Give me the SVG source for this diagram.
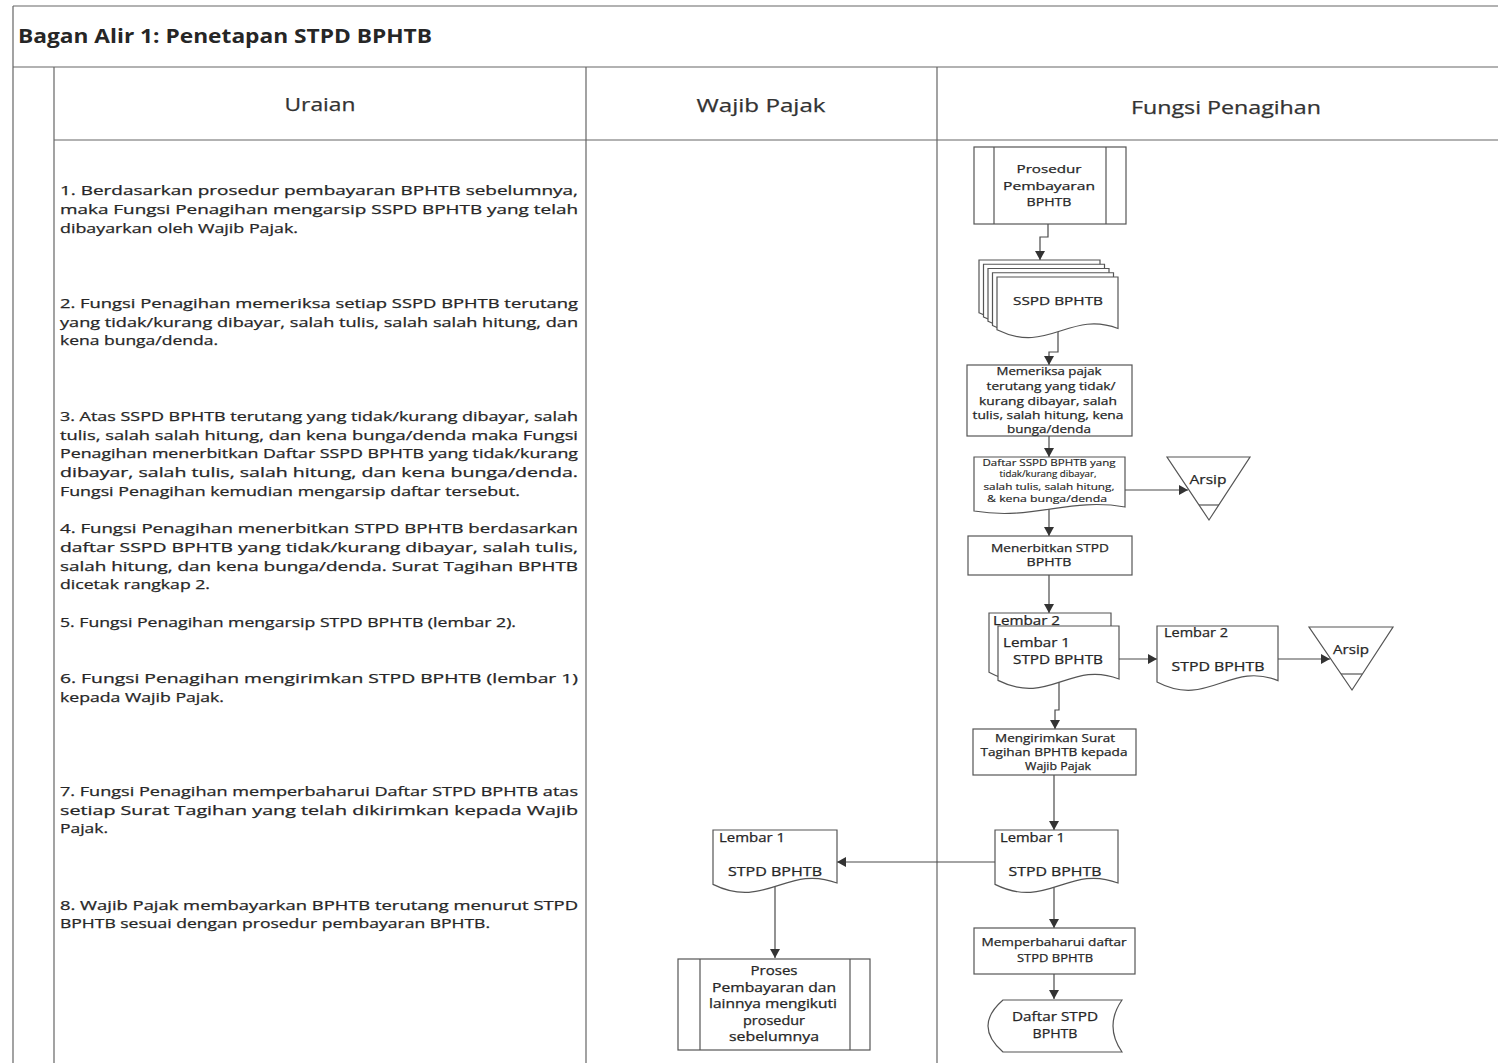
<svg xmlns="http://www.w3.org/2000/svg" width="1498" height="1063" viewBox="0 0 1498 1063">
<style>
.frame{stroke:#666;stroke-width:1.2;fill:none}
.t{font-family:"Open Sans","Liberation Sans",sans-serif;fill:#262626;stroke:#262626;stroke-width:0.25}
.title{font-size:20px;font-weight:bold;stroke-width:0}
.hd{font-size:19px;text-anchor:middle;fill:#333;stroke:#333}
.p{font-size:13px}
.n{font-size:11.5px;text-anchor:middle}
.ns{font-size:9px;text-anchor:middle;stroke-width:0.15}
.l{font-size:12px}
.shape{fill:#fff;stroke:#555;stroke-width:1.2}
.thin{fill:none;stroke:#555;stroke-width:1.2}
.conn{fill:none;stroke:#4a4a4a;stroke-width:1.2;marker-end:url(#arr)}
</style>
<defs>
<marker id="arr" markerUnits="userSpaceOnUse" markerWidth="9" markerHeight="10" viewBox="0 0 9 10" refX="9" refY="5" orient="auto">
<path d="M0,0 L9,5 L0,10 Z" fill="#333"/>
</marker>
</defs>
<rect width="1498" height="1063" fill="#fff"/>

<g id="frame">
<path class="frame" d="M13,6 H1498 M13,6 V1063 M13,67 H1498 M54,67 V1063 M54,140 H1498 M586,67 V1063 M937,67 V1063"/>
<text class="t title" x="18" y="43" textLength="414" lengthAdjust="spacingAndGlyphs">Bagan Alir 1: Penetapan STPD BPHTB</text>
<text class="t hd" x="320" y="111" textLength="71" lengthAdjust="spacingAndGlyphs">Uraian</text>
<text class="t hd" x="761" y="112" textLength="129" lengthAdjust="spacingAndGlyphs">Wajib Pajak</text>
<text class="t hd" x="1226" y="114" textLength="190" lengthAdjust="spacingAndGlyphs">Fungsi Penagihan</text>
</g>

<g id="uraian" class="t p">
<text x="60" y="195" textLength="518" lengthAdjust="spacingAndGlyphs">1. Berdasarkan prosedur pembayaran BPHTB sebelumnya,</text>
<text x="60" y="214" textLength="518" lengthAdjust="spacingAndGlyphs">maka Fungsi Penagihan mengarsip SSPD BPHTB yang telah</text>
<text x="60" y="233" textLength="238" lengthAdjust="spacingAndGlyphs">dibayarkan oleh Wajib Pajak.</text>

<text x="60" y="308" textLength="518" lengthAdjust="spacingAndGlyphs">2. Fungsi Penagihan memeriksa setiap SSPD BPHTB terutang</text>
<text x="60" y="327" textLength="518" lengthAdjust="spacingAndGlyphs">yang tidak/kurang dibayar, salah tulis, salah salah hitung, dan</text>
<text x="60" y="345" textLength="158" lengthAdjust="spacingAndGlyphs">kena bunga/denda.</text>

<text x="60" y="421" textLength="518" lengthAdjust="spacingAndGlyphs">3. Atas SSPD BPHTB terutang yang tidak/kurang dibayar, salah</text>
<text x="60" y="440" textLength="518" lengthAdjust="spacingAndGlyphs">tulis, salah salah hitung, dan kena bunga/denda maka Fungsi</text>
<text x="60" y="458" textLength="518" lengthAdjust="spacingAndGlyphs">Penagihan menerbitkan Daftar SSPD BPHTB yang tidak/kurang</text>
<text x="60" y="477" textLength="518" lengthAdjust="spacingAndGlyphs">dibayar, salah tulis, salah hitung, dan kena bunga/denda.</text>
<text x="60" y="496" textLength="460" lengthAdjust="spacingAndGlyphs">Fungsi Penagihan kemudian mengarsip  daftar tersebut.</text>

<text x="60" y="533" textLength="518" lengthAdjust="spacingAndGlyphs">4. Fungsi Penagihan menerbitkan STPD BPHTB berdasarkan</text>
<text x="60" y="552" textLength="518" lengthAdjust="spacingAndGlyphs">daftar SSPD BPHTB yang tidak/kurang dibayar, salah tulis,</text>
<text x="60" y="571" textLength="518" lengthAdjust="spacingAndGlyphs">salah hitung, dan kena bunga/denda. Surat Tagihan BPHTB</text>
<text x="60" y="589" textLength="150" lengthAdjust="spacingAndGlyphs">dicetak rangkap 2.</text>

<text x="60" y="627" textLength="456" lengthAdjust="spacingAndGlyphs">5. Fungsi Penagihan mengarsip STPD BPHTB (lembar 2).</text>

<text x="60" y="683" textLength="518" lengthAdjust="spacingAndGlyphs">6. Fungsi Penagihan mengirimkan STPD BPHTB (lembar 1)</text>
<text x="60" y="702" textLength="164" lengthAdjust="spacingAndGlyphs">kepada Wajib Pajak.</text>

<text x="60" y="796" textLength="518" lengthAdjust="spacingAndGlyphs">7. Fungsi Penagihan memperbaharui Daftar STPD BPHTB atas</text>
<text x="60" y="815" textLength="518" lengthAdjust="spacingAndGlyphs">setiap Surat Tagihan yang telah dikirimkan kepada Wajib</text>
<text x="60" y="833" textLength="48" lengthAdjust="spacingAndGlyphs">Pajak.</text>

<text x="60" y="910" textLength="518" lengthAdjust="spacingAndGlyphs">8. Wajib Pajak membayarkan BPHTB terutang menurut STPD</text>
<text x="60" y="928" textLength="430" lengthAdjust="spacingAndGlyphs">BPHTB sesuai dengan prosedur pembayaran BPHTB.</text>
</g>

<g id="connectors">
<path class="conn" d="M1048,224 V237 H1040 V260"/>
<path class="conn" d="M1058,332 V352 H1049 V365"/>
<path class="conn" d="M1049,436 V457"/>
<path class="conn" d="M1125,490 H1188"/>
<path class="conn" d="M1049,509 V536"/>
<path class="conn" d="M1049,575 V613"/>
<path class="conn" d="M1119,659 H1157"/>
<path class="conn" d="M1278,659 H1330"/>
<path class="conn" d="M1059,682 V710 H1055 V729"/>
<path class="conn" d="M1054,775 V830"/>
<path class="conn" d="M995,862 H837"/>
<path class="conn" d="M775,886 V958"/>
<path class="conn" d="M1054,886 V928"/>
<path class="conn" d="M1054,974 V999"/>
</g>

<g id="prosedur">
<rect class="shape" x="974" y="147" width="152" height="77"/>
<path class="thin" d="M994,147 V224 M1106,147 V224"/>
<text class="t n" x="1049" y="173" textLength="65" lengthAdjust="spacingAndGlyphs">Prosedur</text>
<text class="t n" x="1049" y="190" textLength="92" lengthAdjust="spacingAndGlyphs">Pembayaran</text>
<text class="t n" x="1049" y="206" textLength="45" lengthAdjust="spacingAndGlyphs">BPHTB</text>
</g>

<g id="sspd">
<path class="shape" transform="translate(979,260)" d="M0,0 H121 V51.5 C72.6,33 50.8,77.9 0,52.8 Z"/>
<path class="shape" transform="translate(983.5,264.25)" d="M0,0 H121 V51.5 C72.6,33 50.8,77.9 0,52.8 Z"/>
<path class="shape" transform="translate(988,268.5)" d="M0,0 H121 V51.5 C72.6,33 50.8,77.9 0,52.8 Z"/>
<path class="shape" transform="translate(992.5,272.75)" d="M0,0 H121 V51.5 C72.6,33 50.8,77.9 0,52.8 Z"/>
<path class="shape" transform="translate(997,277)" d="M0,0 H121 V51.5 C72.6,33 50.8,77.9 0,52.8 Z"/>
<text class="t n" x="1058" y="305" textLength="90" lengthAdjust="spacingAndGlyphs">SSPD BPHTB</text>
</g>

<g id="memeriksa">
<rect class="shape" x="967" y="365" width="165" height="71"/>
<text class="t n" x="1049" y="375" textLength="105" lengthAdjust="spacingAndGlyphs">Memeriksa pajak</text>
<text class="t n" x="1051" y="390" textLength="129" lengthAdjust="spacingAndGlyphs">terutang yang tidak/</text>
<text class="t n" x="1048" y="404.5" textLength="138" lengthAdjust="spacingAndGlyphs">kurang dibayar, salah</text>
<text class="t n" x="1048" y="419" textLength="151" lengthAdjust="spacingAndGlyphs">tulis, salah hitung, kena</text>
<text class="t n" x="1049" y="433" textLength="84" lengthAdjust="spacingAndGlyphs">bunga/denda</text>
</g>

<g id="daftar-sspd">
<path class="shape" transform="translate(974,457)" d="M0,0 H151 V50 C95,40 60,64 0,54 Z"/>
<text class="t ns" x="1049" y="465.5" textLength="133" lengthAdjust="spacingAndGlyphs">Daftar SSPD BPHTB yang</text>
<text class="t ns" x="1048" y="477" textLength="97" lengthAdjust="spacingAndGlyphs">tidak/kurang dibayar,</text>
<text class="t ns" x="1049" y="490" textLength="131" lengthAdjust="spacingAndGlyphs">salah tulis, salah hitung,</text>
<text class="t ns" x="1047" y="502" textLength="120" lengthAdjust="spacingAndGlyphs">&amp; kena bunga/denda</text>
</g>

<g id="arsip1">
<polygon class="shape" points="1167,457 1250,457 1209,520"/>
<path class="thin" d="M1199,505 H1219"/>
<text class="t n" x="1208" y="484" style="font-size:13px" textLength="37" lengthAdjust="spacingAndGlyphs">Arsip</text>
</g>

<g id="menerbitkan">
<rect class="shape" x="968" y="536" width="164" height="39"/>
<text class="t n" x="1050" y="552" textLength="118" lengthAdjust="spacingAndGlyphs">Menerbitkan STPD</text>
<text class="t n" x="1049" y="566" textLength="45" lengthAdjust="spacingAndGlyphs">BPHTB</text>
</g>

<g id="stpd-rangkap">
<path class="shape" transform="translate(989,613)" d="M0,0 H122 V57.7 C73.2,37 51.2,87.3 0,59.2 Z"/>
<text class="t l" x="993" y="625" textLength="67" lengthAdjust="spacingAndGlyphs">Lembar 2</text>
<path class="shape" transform="translate(998,626)" d="M0,0 H121 V53 C72.6,34 50.8,80.2 0,54.4 Z"/>
<text class="t l" x="1003" y="647" textLength="67" lengthAdjust="spacingAndGlyphs">Lembar 1</text>
<text class="t n" x="1058" y="664" style="font-size:12px" textLength="90" lengthAdjust="spacingAndGlyphs">STPD BPHTB</text>
</g>

<g id="stpd-lembar2">
<path class="shape" transform="translate(1157,626)" d="M0,0 H121 V54.6 C72.6,35 50.8,82.6 0,56 Z"/>
<text class="t l" x="1164" y="637" textLength="64" lengthAdjust="spacingAndGlyphs">Lembar 2</text>
<text class="t n" x="1218" y="671" style="font-size:12px" textLength="93" lengthAdjust="spacingAndGlyphs">STPD  BPHTB</text>
</g>

<g id="arsip2">
<polygon class="shape" points="1309,627 1393,627 1352,690"/>
<path class="thin" d="M1341,674 H1362"/>
<text class="t n" x="1351" y="654" style="font-size:13px" textLength="36" lengthAdjust="spacingAndGlyphs">Arsip</text>
</g>

<g id="mengirimkan">
<rect class="shape" x="973" y="729" width="163" height="46"/>
<text class="t n" x="1055" y="742" textLength="120" lengthAdjust="spacingAndGlyphs">Mengirimkan Surat</text>
<text class="t n" x="1054" y="756" textLength="147" lengthAdjust="spacingAndGlyphs">Tagihan BPHTB kepada</text>
<text class="t n" x="1058" y="770" textLength="66" lengthAdjust="spacingAndGlyphs">Wajib Pajak</text>
</g>

<g id="stpd-lembar1-fp">
<path class="shape" transform="translate(995,830)" d="M0,0 H123 V53 C73.8,34 51.7,80.2 0,54.4 Z"/>
<text class="t l" x="1000" y="842" textLength="65" lengthAdjust="spacingAndGlyphs">Lembar 1</text>
<text class="t n" x="1055" y="876" style="font-size:12px" textLength="93" lengthAdjust="spacingAndGlyphs">STPD  BPHTB</text>
</g>

<g id="stpd-lembar1-wp">
<path class="shape" transform="translate(713,830)" d="M0,0 H124 V53 C74.4,34 52.1,80.2 0,54.4 Z"/>
<text class="t l" x="719" y="842" textLength="66" lengthAdjust="spacingAndGlyphs">Lembar 1</text>
<text class="t n" x="775" y="876" style="font-size:12px" textLength="94" lengthAdjust="spacingAndGlyphs">STPD  BPHTB</text>
</g>

<g id="memperbaharui">
<rect class="shape" x="974" y="928" width="161" height="46"/>
<text class="t n" x="1054" y="946" textLength="145" lengthAdjust="spacingAndGlyphs">Memperbaharui daftar</text>
<text class="t n" x="1055" y="962" textLength="76" lengthAdjust="spacingAndGlyphs">STPD BPHTB</text>
</g>

<g id="daftar-stpd">
<path class="shape" d="M1003,1000 H1122 Q1104,1026 1122,1052 H1003 Q973,1026 1003,1000 Z"/>
<text class="t n" x="1055" y="1021" style="font-size:13px" textLength="86" lengthAdjust="spacingAndGlyphs">Daftar STPD</text>
<text class="t n" x="1055" y="1038" style="font-size:13px" textLength="45" lengthAdjust="spacingAndGlyphs">BPHTB</text>
</g>

<g id="proses">
<rect class="shape" x="678" y="959" width="192" height="91"/>
<path class="thin" d="M700,959 V1050 M850,959 V1050"/>
<text class="t n" x="774" y="975" style="font-size:12px" textLength="47" lengthAdjust="spacingAndGlyphs">Proses</text>
<text class="t n" x="774" y="992" style="font-size:12px" textLength="124" lengthAdjust="spacingAndGlyphs">Pembayaran dan</text>
<text class="t n" x="773" y="1008" style="font-size:12px" textLength="128" lengthAdjust="spacingAndGlyphs">lainnya mengikuti</text>
<text class="t n" x="774" y="1025" style="font-size:12px" textLength="62" lengthAdjust="spacingAndGlyphs">prosedur</text>
<text class="t n" x="774" y="1041" style="font-size:12px" textLength="90" lengthAdjust="spacingAndGlyphs">sebelumnya</text>
</g>
</svg>
